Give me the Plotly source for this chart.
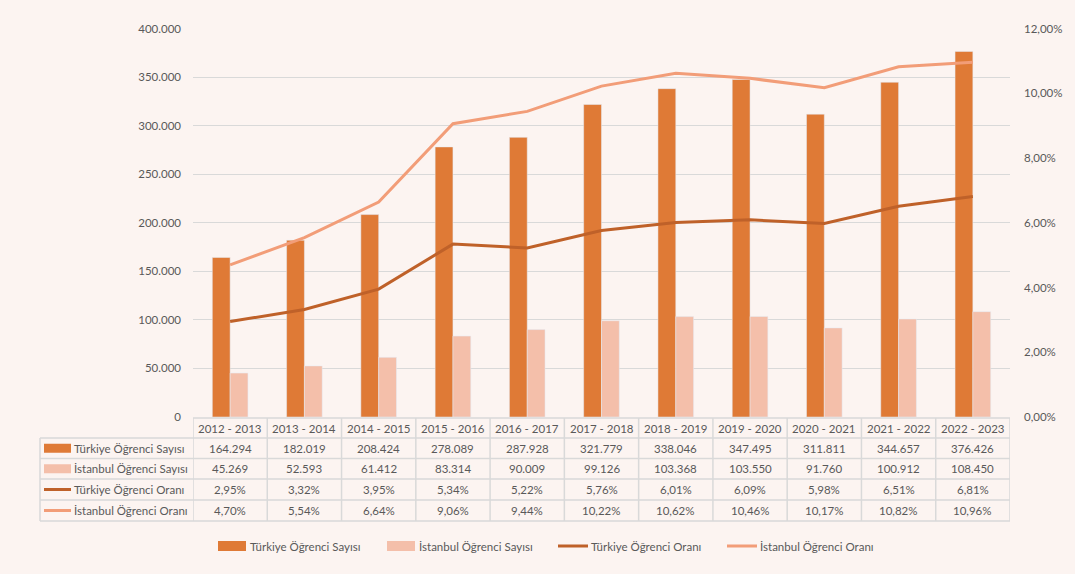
import plotly.graph_objects as go

years = ["2012 - 2013", "2013 - 2014", "2014 - 2015", "2015 - 2016", "2016 - 2017",
         "2017 - 2018", "2018 - 2019", "2019 - 2020", "2020 - 2021", "2021 - 2022",
         "2022 - 2023"]
turkiye_sayi = [164294, 182019, 208424, 278089, 287928, 321779, 338046, 347495,
                311811, 344657, 376426]
istanbul_sayi = [45269, 52593, 61412, 83314, 90009, 99126, 103368, 103550,
                 91760, 100912, 108450]
turkiye_oran = [2.95, 3.32, 3.95, 5.34, 5.22, 5.76, 6.01, 6.09, 5.98, 6.51, 6.81]
istanbul_oran = [4.70, 5.54, 6.64, 9.06, 9.44, 10.22, 10.62, 10.46, 10.17, 10.82, 10.96]

names = ["Türkiye Öğrenci Sayısı", "İstanbul Öğrenci Sayısı",
         "Türkiye Öğrenci Oranı", "İstanbul Öğrenci Oranı"]

W, H = 1075, 574
BG = "#FCF4F1"
C_TR_BAR = "#DF7A36"
C_IST_BAR = "#F4BFAA"
C_TR_LINE = "#BF6129"
C_IST_LINE = "#F29D78"
GRID = "#D9D9D9"
TXT = "#595959"
FONT = "Lato"
FSIZE = 11.5


def px(x):
    return x / W


def py(y):
    return 1 - y / H


x0, x1 = 193, 1010
y_top, y_bot = 28.5, 417

fig = go.Figure()
fig.add_trace(go.Bar(x=years, y=turkiye_sayi, name=names[0], marker_color=C_TR_BAR))
fig.add_trace(go.Bar(x=years, y=istanbul_sayi, name=names[1], marker_color=C_IST_BAR))
fig.add_trace(go.Scatter(x=years, y=turkiye_oran, name=names[2], mode="lines",
                         line=dict(color=C_TR_LINE, width=3), yaxis="y2"))
fig.add_trace(go.Scatter(x=years, y=istanbul_oran, name=names[3], mode="lines",
                         line=dict(color=C_IST_LINE, width=3), yaxis="y2"))

shapes = []
annotations = []

# data table under the chart
row_edges = [418, 438, 458.5, 479, 500, 521]
line_style = dict(color=GRID, width=1.5)
shapes.append(dict(type="line", xref="paper", yref="paper", x0=px(x0), x1=px(x1),
                   y0=py(row_edges[0]), y1=py(row_edges[0]), line=line_style))
for r in row_edges[1:]:
    shapes.append(dict(type="line", xref="paper", yref="paper", x0=px(40), x1=px(x1),
                       y0=py(r), y1=py(r), line=line_style))
shapes.append(dict(type="line", xref="paper", yref="paper", x0=px(40), x1=px(40),
                   y0=py(row_edges[1]), y1=py(row_edges[-1]), line=line_style))
for k in range(len(years) + 1):
    shapes.append(dict(type="line", xref="x", yref="paper", x0=k - 0.5, x1=k - 0.5,
                       y0=py(row_edges[0]), y1=py(row_edges[-1]), line=line_style))

fmt_num = lambda v: f"{v:,}".replace(",", ".")
fmt_pct = lambda v: f"{v:.2f}%".replace(".", ",")
rows = [
    [fmt_num(v) for v in turkiye_sayi],
    [fmt_num(v) for v in istanbul_sayi],
    [fmt_pct(v) for v in turkiye_oran],
    [fmt_pct(v) for v in istanbul_oran],
]
tfont = dict(family=FONT, size=FSIZE, color=TXT)
hc = (row_edges[0] + row_edges[1]) / 2
for i, yr in enumerate(years):
    annotations.append(dict(x=i, y=py(hc), xref="x", yref="paper", text=yr,
                            showarrow=False, yanchor="middle", font=tfont))
for r, vals in enumerate(rows):
    cy = (row_edges[r + 1] + row_edges[r + 2]) / 2
    for i, v in enumerate(vals):
        annotations.append(dict(x=i, y=py(cy), xref="x", yref="paper", text=v,
                                showarrow=False, yanchor="middle", font=tfont))
    annotations.append(dict(x=px(72), y=py(cy), xref="paper", yref="paper", text=names[r],
                            showarrow=False, xanchor="left", yanchor="middle", font=tfont))
    if r < 2:
        shapes.append(dict(type="rect", xref="paper", yref="paper", x0=px(44), x1=px(71),
                           y0=py(cy - 4.5), y1=py(cy + 4.5), line=dict(width=0),
                           fillcolor=[C_TR_BAR, C_IST_BAR][r]))
    else:
        shapes.append(dict(type="line", xref="paper", yref="paper", x0=px(44), x1=px(71),
                           y0=py(cy), y1=py(cy),
                           line=dict(color=[C_TR_LINE, C_IST_LINE][r - 2], width=3)))

# legend at the bottom
leg_y = 546
leg_items = [(218, 248), (387, 417), (558, 589), (727, 758)]
for n, (sx, tx) in enumerate(leg_items):
    if n < 2:
        shapes.append(dict(type="rect", xref="paper", yref="paper", x0=px(sx), x1=px(sx + 28),
                           y0=py(leg_y - 5), y1=py(leg_y + 5), line=dict(width=0),
                           fillcolor=[C_TR_BAR, C_IST_BAR][n]))
    else:
        shapes.append(dict(type="line", xref="paper", yref="paper", x0=px(sx), x1=px(sx + 30),
                           y0=py(leg_y), y1=py(leg_y),
                           line=dict(color=[C_TR_LINE, C_IST_LINE][n - 2], width=3)))
    annotations.append(dict(x=px(tx), y=py(leg_y), xref="paper", yref="paper", text=names[n],
                            showarrow=False, xanchor="left", yanchor="middle", font=tfont))

fig.update_layout(
    width=W, height=H,
    margin=dict(l=0, r=0, t=0, b=0),
    paper_bgcolor=BG, plot_bgcolor=BG,
    separators=",.",
    barmode="group", bargap=0.52, bargroupgap=0,
    showlegend=False,
    font=dict(family=FONT, size=FSIZE, color=TXT),
    xaxis=dict(domain=[px(x0), px(x1)], range=[-0.5, len(years) - 0.5],
               showticklabels=False, showgrid=False, zeroline=False, showline=False,
               automargin=False),
    yaxis=dict(domain=[py(y_bot), py(y_top)], range=[0, 400000], dtick=50000,
               tickformat=",d", showgrid=True, gridcolor=GRID, gridwidth=1,
               zeroline=False, showline=False, ticks="", ticklabelstandoff=11,
               automargin=False, tickfont=dict(family=FONT, size=FSIZE, color=TXT)),
    yaxis2=dict(overlaying="y", side="right", range=[0, 12], dtick=2,
                tickformat=".2f", ticksuffix="%", showgrid=False, zeroline=False,
                showline=False, ticks="", ticklabelstandoff=13, automargin=False,
                tickfont=dict(family=FONT, size=FSIZE, color=TXT)),
    shapes=shapes,
    annotations=annotations,
)

fig.write_html("out.html", config={"displayModeBar": False},
               post_script="document.body.style.margin='0';"
                           "document.body.style.background='" + BG + "';")
